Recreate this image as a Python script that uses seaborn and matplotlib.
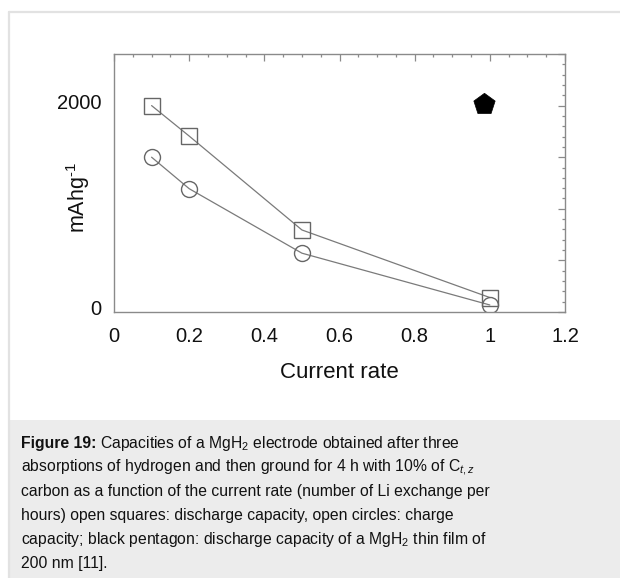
import matplotlib
matplotlib.use("Agg")
import matplotlib.pyplot as plt
from matplotlib.patches import Rectangle
from matplotlib.lines import Line2D
from matplotlib.transforms import ScaledTranslation
from matplotlib.ticker import MultipleLocator, FixedFormatter, FixedLocator
import seaborn as sns
import pandas as pd

# Capacity (mAh/g) versus current rate
rate = [0.1, 0.2, 0.5, 1.0]
discharge = [2000, 1705, 795, 140]
charge = [1500, 1195, 570, 68]
film_rate = [0.985]
film_capacity = [2020]

x_ticks = [0, 0.2, 0.4, 0.6, 0.8, 1, 1.2]
x_tick_labels = ["0", "0.2", "0.4", "0.6", "0.8", "1", "1.2"]
y_ticks = [0, 500, 1000, 1500, 2000, 2500]
y_tick_labels = ["0", "", "", "", "2000", ""]

sns.set_theme(style="white")
plt.rcParams["font.family"] = ["Liberation Sans", "DejaVu Sans"]
plt.rcParams["mathtext.fontset"] = "custom"
plt.rcParams["mathtext.rm"] = "Liberation Sans"
plt.rcParams["mathtext.it"] = "Liberation Sans:italic"
plt.rcParams["mathtext.bf"] = "Liberation Sans:bold"

W, H = 620, 578
fig = plt.figure(figsize=(W / 100, H / 100), dpi=100)
fig.patch.set_facecolor("white")

# card frame and caption panel
fig.add_artist(Rectangle((9 / W, 0), 1 - 9 / W, (H - 420) / H,
                         transform=fig.transFigure, facecolor="#ececec",
                         edgecolor="none", zorder=0))
fig.add_artist(Line2D([9 / W, 9 / W], [0, 1 - 12 / H], transform=fig.transFigure,
                      color="#e2e2e2", lw=1.6))
fig.add_artist(Line2D([9 / W, 1], [1 - 12 / H, 1 - 12 / H], transform=fig.transFigure,
                      color="#e2e2e2", lw=1.6))

ax = fig.add_axes([114 / W, 1 - 312 / H, (565 - 114) / W, (312 - 54) / H])

df_d = pd.DataFrame({"rate": rate, "cap": discharge})
df_c = pd.DataFrame({"rate": rate, "cap": charge})
df_f = pd.DataFrame({"rate": film_rate, "cap": film_capacity})

line_kw = dict(color="#7a7a7a", linewidth=0.9, markerfacecolor="none",
               markeredgecolor="#666666", markeredgewidth=1.0)
sns.lineplot(data=df_d, x="rate", y="cap", ax=ax, marker="s", markersize=12,
             sort=False, **line_kw)
sns.lineplot(data=df_c, x="rate", y="cap", ax=ax, marker="o", markersize=11.5,
             sort=False, **line_kw)
sns.scatterplot(data=df_f, x="rate", y="cap", ax=ax, marker="p", s=260,
                color="black", edgecolor="black", linewidth=0.5, zorder=5)

ax.set_xlim(0, 1.2)
ax.set_ylim(0, 2500)
ax.xaxis.set_major_locator(FixedLocator(x_ticks))
ax.xaxis.set_major_formatter(FixedFormatter(x_tick_labels))
ax.xaxis.set_minor_locator(MultipleLocator(0.05))
ax.yaxis.set_major_locator(FixedLocator(y_ticks))
ax.yaxis.set_major_formatter(FixedFormatter(y_tick_labels))
ax.yaxis.set_minor_locator(MultipleLocator(100))

for s in ax.spines.values():
    s.set_color("#8a8a8a")
    s.set_linewidth(1.0)
ax.tick_params(which="both", direction="in", top=True, right=True,
               color="#8a8a8a", width=0.9)
ax.tick_params(which="major", length=5, labelsize=14.5, labelcolor="#111111")
ax.tick_params(which="minor", length=2.5)
ax.tick_params(axis="x", which="major", pad=11)
ax.tick_params(axis="y", which="major", pad=9)

# y tick labels sit slightly above their ticks
lift = ScaledTranslation(0, 3 / 72, fig.dpi_scale_trans)
for lab in ax.get_yticklabels():
    lab.set_transform(lab.get_transform() + lift)

ax.set_xlabel("Current rate", fontsize=16, labelpad=11, color="#111111")
ax.set_ylabel(r"mAhg$^{\text{-1}}$", fontsize=15.5, color="#111111")
ax.yaxis.set_label_coords((92 - 114) / 451, (312 - 197) / 258)

# caption
cap_fs = 11.3
baselines = [448, 472, 496, 520, 544, 568]
x0 = 21 / W
head = fig.text(x0, 1 - baselines[0] / H, "Figure 19:", fontsize=cap_fs,
                fontweight="bold", va="baseline", ha="left", color="#111111")
fig.canvas.draw()
bb = head.get_window_extent(renderer=fig.canvas.get_renderer())
fig.text((bb.x1 + 4) / W, 1 - baselines[0] / H,
         r"Capacities of a MgH$_2$ electrode obtained after three",
         fontsize=cap_fs, va="baseline", ha="left", color="#111111")
caption_lines = [
    r"absorptions of hydrogen and then ground for 4 h with 10% of C$_{\mathit{t,z}}$",
    "carbon as a function of the current rate (number of Li exchange per",
    "hours) open squares: discharge capacity, open circles: charge",
    r"capacity; black pentagon: discharge capacity of a MgH$_2$ thin film of",
    "200 nm [11].",
]
for txt, yy in zip(caption_lines, baselines[1:]):
    fig.text(x0, 1 - yy / H, txt, fontsize=cap_fs, va="baseline", ha="left",
             color="#111111")

fig.savefig("out.png", dpi=100)
